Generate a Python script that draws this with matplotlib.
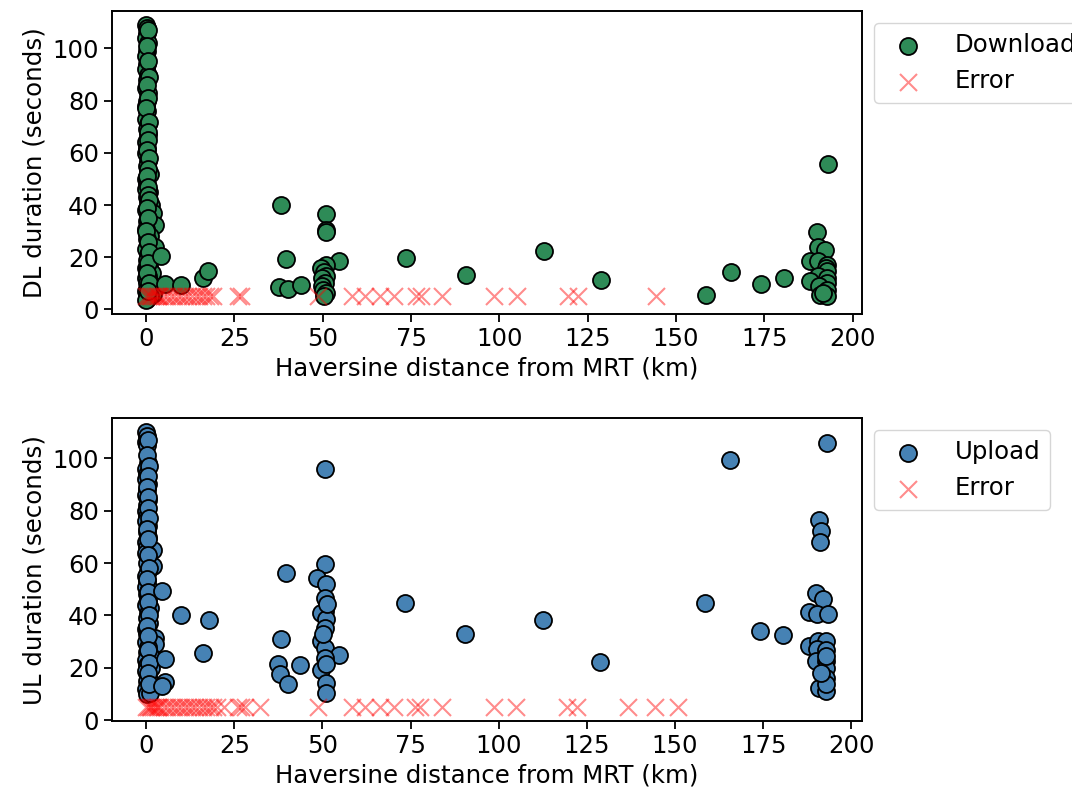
import numpy as np
import matplotlib
matplotlib.use("Agg")
import matplotlib.pyplot as plt

# download durations (distance km, seconds)
dl_dist = [
    0.1, 0.3, 0.2, 0.0, 0.4, 0.2, 0.1, 0.3, 0.0, 0.5, 0.2, 0.1, 0.4, 0.2, 0.0, 0.3,
    0.1, 0.5, 0.2, 0.4, 0.0, 0.3, 0.1, 0.6, 0.2, 0.4, 1.2, 0.1, 0.3, 0.0, 0.8, 0.2,
    0.5, 1.5, 0.1, 0.4, 2.0, 0.2, 0.7, 2.4, 0.0, 0.3, 1.0, 0.2, 0.6, 2.6, 0.1, 0.4,
    1.4, 0.2, 0.8, 0.0, 0.3, 1.7, 0.5, 0.1, 0.9, 0.2, 1.3, 0.4, 2.2, 0.0, 0.6, 1.9,
    0.2, 1.1, 0.3, 0.0,
    0.6, 0.2, 0.5, 0.7, 0.3, 0.6, 0.1, 0.7, 0.4, 0.6, 0.3, 0.7, 0.5, 0.2, 0.6, 0.4,
    0.7, 0.3, 0.5, 0.1, 0.6, 0.8, 0.4, 0.2, 0.7, 0.5,
    4.3, 5.3, 10.0, 16.2, 17.6,
    38.3, 39.6, 37.5, 40.1, 43.8, 50.8, 50.9, 50.8, 54.6, 50.8, 49.5, 50.3, 50.9,
    49.8, 50.6, 49.7, 50.2, 50.8, 50.5,
    73.5, 90.5, 112.6, 128.7, 158.5, 165.5, 174.1, 180.5,
    193.0, 190.0, 190.1, 192.3, 187.9, 190.3, 192.8, 192.6, 192.8, 190.1, 192.8,
    187.9, 192.8, 190.5, 192.8, 190.9, 192.8, 191.5,
]
dl_secs = [
    109, 108, 106, 104, 102, 99, 97, 94, 92, 90, 88, 85, 83, 80, 78, 76,
    73, 71, 69, 67, 64, 62, 60, 57, 55, 53, 52, 50, 48, 46, 45, 43,
    41, 40, 38, 36, 37, 34, 33, 32.5, 31, 29, 28, 27, 25, 24, 23, 21,
    20, 19, 17, 16, 15, 14, 13, 12, 11, 10, 9, 8, 8.5, 7, 6, 6,
    5, 5, 4, 3.5,
    107, 101, 95, 89, 86, 81, 77, 72, 68, 65, 61, 58, 54, 51, 47, 44,
    42, 39, 35, 30, 26, 22, 18, 14, 10, 7,
    20.3, 9.6, 9.3, 11.9, 14.6,
    39.9, 19.4, 8.7, 7.9, 9.2, 36.6, 30.3, 29.8, 18.5, 17.2, 15.9, 14.5, 13.0,
    12.0, 10.2, 9.0, 7.5, 6.5, 5.3,
    19.8, 13.4, 22.3, 11.4, 5.7, 14.3, 9.9, 12.1,
    55.8, 29.7, 24.0, 22.7, 18.5, 18.5, 17.2, 15.8, 14.6, 13.0, 12.1,
    10.8, 10.0, 9.0, 7.6, 5.7, 5.3, 6.5,
]
dl_err_dist = [
    0, 0.5, 1, 1.5, 2, 2.5, 3, 3.5, 4, 5, 6, 7, 8, 9, 10, 11, 12, 13, 14, 15,
    16, 17, 18, 19, 26, 27, 48.6, 58.3, 62.1, 66.3, 70.3, 76.3, 77.7, 83.9,
    98.6, 105.0, 119.4, 122.2, 144.3,
]

# upload durations
ul_dist = [
    0.1, 0.3, 0.0, 0.2, 0.4, 0.1, 0.3, 0.0, 0.5, 0.2, 0.1, 0.4, 0.2, 0.0, 0.3, 0.1,
    0.5, 0.2, 0.4, 0.0, 0.3, 2.0, 0.1, 0.6, 0.2, 2.0, 0.4, 0.1, 0.3, 0.0, 0.8, 0.2,
    0.5, 0.1, 1.2, 0.4, 0.2, 0.7, 0.0, 0.3, 2.6, 0.1, 2.4, 0.5, 0.2, 1.0, 0.0, 0.3,
    1.5, 0.1, 0.6, 0.2, 1.8, 0.4, 0.0, 0.8, 0.2, 1.2,
    0.6, 0.3, 0.7, 0.5, 0.2, 0.6, 0.4, 0.7, 0.3, 0.6, 0.5, 0.7, 0.2, 0.6, 0.4, 0.7,
    0.3, 0.5, 0.6, 0.8, 0.4, 0.7,
    4.4, 5.3, 5.3, 4.6, 10.0, 17.8, 16.2,
    39.6, 38.3, 37.5, 38.0, 40.1, 43.7,
    50.8, 50.8, 48.4, 50.9, 50.8, 50.8, 49.5, 50.9, 50.8, 49.7, 50.8, 54.7, 50.8,
    49.6, 50.9, 50.9, 50.9, 50.3, 51.2,
    73.5, 90.5, 112.6, 128.7, 158.5, 165.5, 174.1, 180.5,
    193.0, 190.9, 191.4, 191.0, 190.0, 191.8, 187.9, 190.1, 193.3, 187.9, 190.4,
    192.8, 190.2, 192.8, 190.0, 192.8, 192.8, 192.8, 190.7, 192.8, 192.8, 191.5,
    192.8,
]
ul_secs = [
    110, 108.5, 106, 105, 98, 96, 94, 92, 90, 88, 86, 84, 82, 80, 78, 76,
    74, 72, 70, 68, 66, 65, 64, 62, 60, 59, 57, 55, 53, 51, 50, 48,
    46, 44, 43, 41, 39, 37, 35, 33, 31.5, 30, 29, 28, 26, 25, 23, 21,
    20, 19, 17, 15, 14, 13, 12, 11, 10, 10.5,
    107, 101, 97, 93, 89, 85, 81, 77, 73, 69, 63, 58, 54, 49, 45, 40,
    36, 32, 27, 22, 18, 14,
    49.4, 23.3, 14.7, 13.0, 40.1, 38.3, 25.8,
    56.1, 31.1, 21.4, 17.5, 13.7, 21.1,
    96.0, 59.8, 54.4, 52.1, 46.8, 41.7, 41.0, 38.5, 35.3, 30.3, 27.7, 24.9, 23.9,
    19.1, 21.6, 14.4, 10.5, 33.0, 44.5,
    44.9, 32.8, 38.2, 22.1, 44.9, 99.2, 34.1, 32.6,
    105.7, 76.4, 72.3, 68.0, 48.7, 46.2, 41.3, 40.4, 40.7, 28.4, 30.3,
    30.3, 27.2, 26.8, 22.6, 22.6, 20.1, 16.3, 12.4, 11.2, 13.8, 18.0,
    24.5,
]
ul_err_dist = [
    0, 0.5, 1, 1.5, 2, 2.5, 3, 3.5, 4, 5, 6, 7, 8, 9, 10, 11, 12, 13, 14, 15,
    16, 17, 18, 19, 20, 22, 26, 27, 28, 32.3, 48.6, 58.3, 62.1, 66.3, 70.3,
    76.3, 77.7, 83.9, 98.6, 105.0, 119.4, 122.2, 136.6, 144.3, 150.9,
]
ERROR_SECS = 5

plt.rcParams['font.family'] = 'DejaVu Sans'
plt.rcParams['font.size'] = 17.6
plt.rcParams['axes.linewidth'] = 1.4
for k in ('xtick', 'ytick'):
    plt.rcParams[k + '.major.size'] = 6
    plt.rcParams[k + '.major.width'] = 1.3

fig, (ax1, ax2) = plt.subplots(2, 1, figsize=(10.72, 7.95), dpi=100)
fig.subplots_adjust(left=0.1045, right=0.804, top=0.986, bottom=0.093, hspace=0.343)

panels = [
    (ax1, dl_dist, dl_secs, dl_err_dist, 'seagreen', 'Download', 'DL duration (seconds)'),
    (ax2, ul_dist, ul_secs, ul_err_dist, 'steelblue', 'Upload', 'UL duration (seconds)'),
]
for ax, xs, ys, errs, color, label, ylabel in panels:
    ax.scatter(xs, ys, s=150, c=color, edgecolors='black', linewidths=1.3, label=label)
    ax.scatter(errs, np.full(len(errs), ERROR_SECS), s=150, marker='x',
               c='red', alpha=0.45, linewidths=1.5, label='Error')
    ax.set_xlabel('Haversine distance from MRT (km)')
    ax.set_ylabel(ylabel)
    ax.set_xticks(np.arange(0, 201, 25))
    ax.set_yticks(np.arange(0, 101, 20))
    ax.legend(loc='upper left', bbox_to_anchor=(1, 1), handletextpad=0.9)

fig.savefig('out.png', dpi=100)
